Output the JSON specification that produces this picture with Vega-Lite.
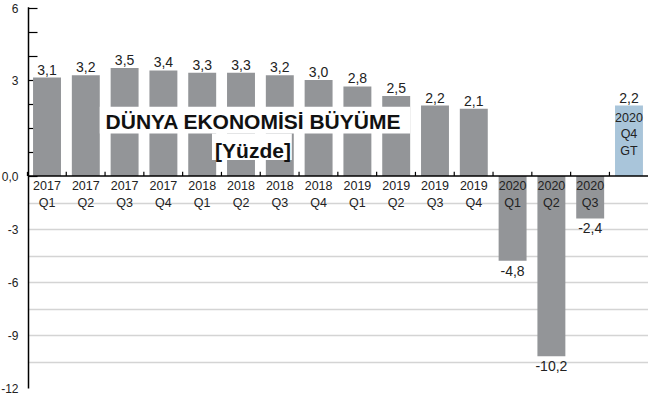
{
  "$schema": "https://vega.github.io/schema/vega-lite/v6.json",
  "width": 620,
  "height": 382,
  "autosize": "none",
  "padding": {"left": 28, "top": 8, "right": 0, "bottom": 12},
  "background": "#ffffff",
  "config": {
    "view": {"stroke": null},
    "font": "Liberation Sans",
    "locale": {"number": {"decimal": ",", "thousands": ".", "grouping": [3], "currency": ["", ""], "minus": "-"}}
  },
  "data": {
    "values": [
      {"period": "2017 Q1", "lbl": ["2017", "Q1"], "value": 3.1, "kind": "actual"},
      {"period": "2017 Q2", "lbl": ["2017", "Q2"], "value": 3.2, "kind": "actual"},
      {"period": "2017 Q3", "lbl": ["2017", "Q3"], "value": 3.5, "kind": "actual"},
      {"period": "2017 Q4", "lbl": ["2017", "Q4"], "value": 3.4, "kind": "actual"},
      {"period": "2018 Q1", "lbl": ["2018", "Q1"], "value": 3.3, "kind": "actual"},
      {"period": "2018 Q2", "lbl": ["2018", "Q2"], "value": 3.3, "kind": "actual"},
      {"period": "2018 Q3", "lbl": ["2018", "Q3"], "value": 3.2, "kind": "actual"},
      {"period": "2018 Q4", "lbl": ["2018", "Q4"], "value": 3.0, "kind": "actual"},
      {"period": "2019 Q1", "lbl": ["2019", "Q1"], "value": 2.8, "kind": "actual"},
      {"period": "2019 Q2", "lbl": ["2019", "Q2"], "value": 2.5, "kind": "actual"},
      {"period": "2019 Q3", "lbl": ["2019", "Q3"], "value": 2.2, "kind": "actual"},
      {"period": "2019 Q4", "lbl": ["2019", "Q4"], "value": 2.1, "kind": "actual"},
      {"period": "2020 Q1", "lbl": ["2020", "Q1"], "value": -4.8, "kind": "actual"},
      {"period": "2020 Q2", "lbl": ["2020", "Q2"], "value": -10.2, "kind": "actual"},
      {"period": "2020 Q3", "lbl": ["2020", "Q3"], "value": -2.4, "kind": "actual"},
      {"period": "2020 Q4 GT", "lbl": ["2020", "Q4", "GT"], "value": 2.2, "kind": "forecast"}
    ]
  },
  "layer": [
    {
      "mark": {"type": "bar"},
      "encoding": {
        "x": {
          "field": "period", "type": "nominal", "sort": null,
          "scale": {"paddingInner": 0.28, "paddingOuter": 0.13},
          "axis": null
        },
        "y": {
          "field": "value", "type": "quantitative",
          "scale": {"type": "linear", "domain": [-12, 0, 3, 6.05], "range": [380, 168, 72, -1.2], "nice": false, "zero": false},
          "axis": {
            "values": [-12, -10.5, -9, -7.5, -6, -4.5, -3, -1.5, 0, 0.75, 1.5, 2.25, 3, 4, 5, 6],
            "tickCount": 40,
            "title": null,
            "domainColor": "#000000", "domainWidth": 1.5,
            "labelExpr": "datum.value == 0 ? '0,0' : ((abs(datum.value - round(datum.value)) < 0.05 && round(datum.value) % 3 == 0) ? '' + round(datum.value) : '')",
            "labelFont": "Liberation Sans",
            "labelFontSize": 12,
            "labelColor": "#222222",
            "labelPadding": 19,
            "labelOverlap": false,
            "labelBound": false,
            "labelFlush": false,
            "tickColor": "#000000",
            "tickSize": -9,
            "tickWidth": 1.2,
            "tickOpacity": {"condition": {"test": "datum.value >= 0", "value": 1}, "value": 0},
            "grid": true,
            "gridColor": "#d4d4d4",
            "gridWidth": 1.5,
            "gridOpacity": {"condition": {"test": "datum.value < 0 && datum.value > -12", "value": 1}, "value": 0}
          }
        },
        "color": {
          "field": "kind", "type": "nominal",
          "scale": {"domain": ["actual", "forecast"], "range": ["#939598", "#a9c5da"]},
          "legend": null
        }
      }
    },
    {
      "data": {"values": [{}]},
      "mark": {"type": "rule", "color": "#000000", "strokeWidth": 1.5},
      "encoding": {"y": {"datum": 0}}
    },
    {
      "mark": {"type": "rule", "color": "#000000", "strokeWidth": 1.2},
      "encoding": {
        "x": {"field": "period", "type": "nominal", "sort": null, "bandPosition": -0.2},
        "y": {"datum": 0, "type": "quantitative"},
        "y2": {"datum": 0.13}
      }
    },
    {
      "transform": [{"filter": "datum.value >= 0"}],
      "mark": {"type": "text", "baseline": "alphabetic", "dy": -3, "font": "Liberation Sans", "fontSize": 14, "color": "#222222"},
      "encoding": {
        "x": {"field": "period", "type": "nominal", "sort": null},
        "y": {"field": "value", "type": "quantitative"},
        "text": {"field": "value", "type": "quantitative", "format": ".1f"}
      }
    },
    {
      "transform": [{"filter": "datum.value < 0"}],
      "mark": {"type": "text", "baseline": "top", "dy": 4, "font": "Liberation Sans", "fontSize": 14, "color": "#222222"},
      "encoding": {
        "x": {"field": "period", "type": "nominal", "sort": null},
        "y": {"field": "value", "type": "quantitative"},
        "text": {"field": "value", "type": "quantitative", "format": ".1f"}
      }
    },
    {
      "transform": [{"filter": "datum.kind == 'actual'"}],
      "mark": {"type": "text", "baseline": "top", "dy": 4, "font": "Liberation Sans", "fontSize": 12.5, "lineHeight": 17, "color": "#222222"},
      "encoding": {
        "x": {"field": "period", "type": "nominal", "sort": null},
        "y": {"datum": 0},
        "text": {"field": "lbl"}
      }
    },
    {
      "transform": [{"filter": "datum.kind == 'forecast'"}],
      "mark": {"type": "text", "baseline": "top", "dy": 6, "font": "Liberation Sans", "fontSize": 12.5, "lineHeight": 16.5, "color": "#222222"},
      "encoding": {
        "x": {"field": "period", "type": "nominal", "sort": null},
        "y": {"field": "value", "type": "quantitative"},
        "text": {"field": "lbl"}
      }
    },
    {
      "data": {"values": [{}]},
      "mark": {"type": "rect", "color": "#ffffff"},
      "encoding": {
        "x": {"datum": "2017 Q2", "type": "nominal", "bandPosition": 1},
        "x2": {"datum": "2019 Q2", "bandPosition": 1},
        "y": {"datum": 2.166, "type": "quantitative"},
        "y2": {"datum": 1.33}
      }
    },
    {
      "data": {"values": [{}]},
      "mark": {"type": "rect", "color": "#ffffff"},
      "encoding": {
        "x": {"datum": "2018 Q1", "type": "nominal", "bandPosition": 0.85},
        "x2": {"datum": "2018 Q3", "bandPosition": 0.93},
        "y": {"datum": 1.33, "type": "quantitative"},
        "y2": {"datum": 0.5}
      }
    },
    {
      "data": {"values": [{}]},
      "mark": {"type": "text", "text": "DÜNYA EKONOMİSİ BÜYÜME", "font": "Liberation Sans", "fontWeight": "bold", "fontSize": 21, "baseline": "alphabetic", "align": "center", "color": "#111111"},
      "encoding": {
        "x": {"datum": "2018 Q2", "type": "nominal", "bandPosition": 0.93},
        "y": {"datum": 1.46, "type": "quantitative"}
      }
    },
    {
      "data": {"values": [{}]},
      "mark": {"type": "text", "text": "[Yüzde]", "font": "Liberation Sans", "fontWeight": "bold", "fontSize": 21, "baseline": "alphabetic", "align": "center", "color": "#111111"},
      "encoding": {
        "x": {"datum": "2018 Q2", "type": "nominal", "bandPosition": 0.93},
        "y": {"datum": 0.57, "type": "quantitative"}
      }
    }
  ]
}
